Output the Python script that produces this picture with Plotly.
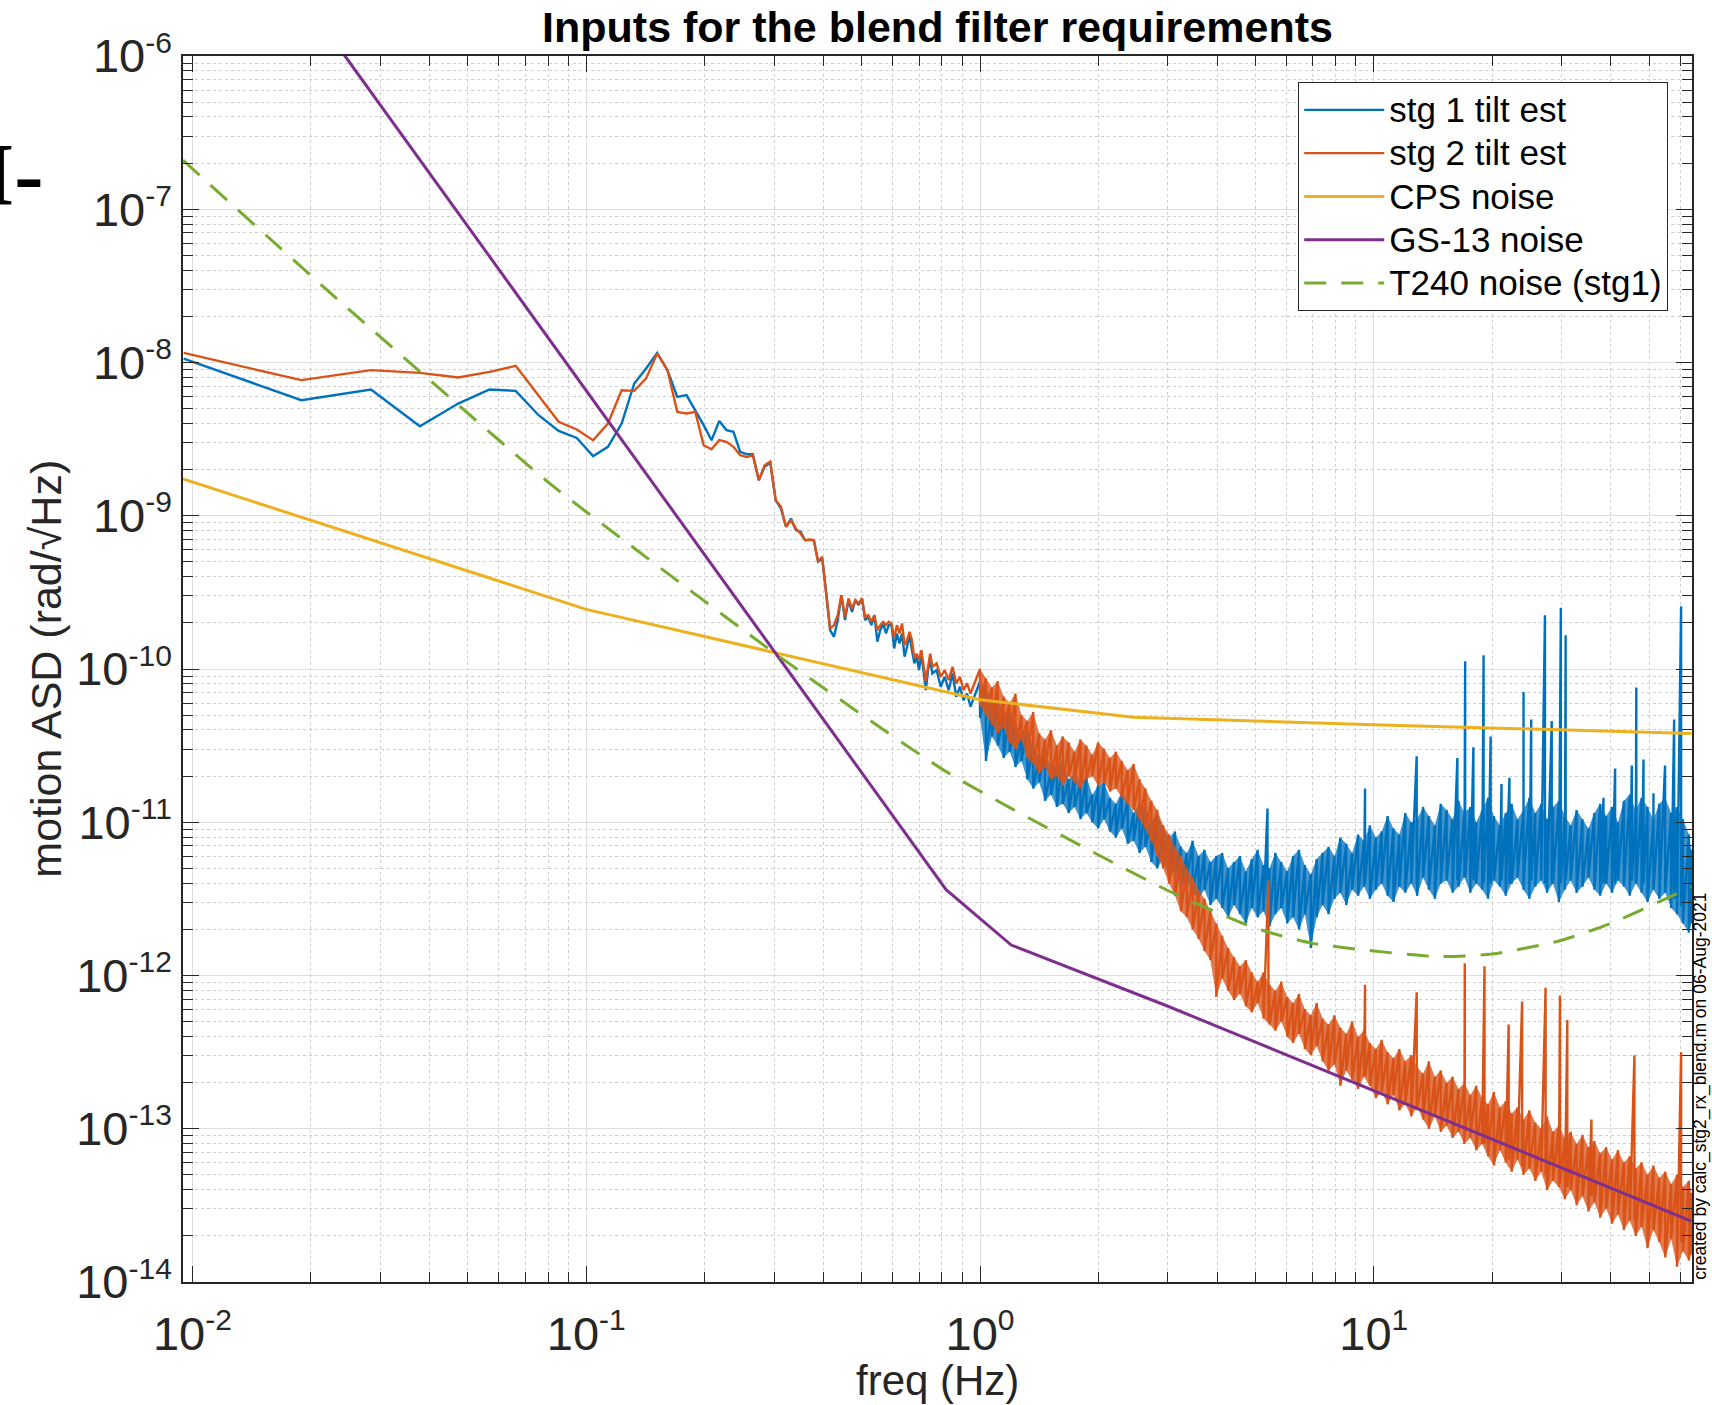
import plotly.graph_objects as go

# ---------------- data ----------------
# low-frequency spectral bins (Hz) shared by both tilt estimates
low_freq = [0.0095, 0.0189, 0.0284, 0.0378, 0.0473, 0.0568, 0.0662, 0.0757, 0.0851, 0.0946,
            0.1041, 0.1135, 0.1230, 0.1324, 0.1419, 0.1514, 0.1608, 0.1703, 0.1797, 0.1892,
            0.1987, 0.2081, 0.2176, 0.2270, 0.2365, 0.2460, 0.2554, 0.2649, 0.2743, 0.2838,
            0.2933, 0.3027, 0.3122, 0.3216, 0.3311, 0.3406, 0.3500, 0.3595, 0.3689, 0.3784,
            0.3879, 0.3973, 0.4068, 0.4162, 0.4257, 0.4352, 0.4446, 0.4541, 0.4635, 0.4730,
            0.4825, 0.4919, 0.5014, 0.5108, 0.5203, 0.5298, 0.5392, 0.5487, 0.5581, 0.5676,
            0.5771, 0.5865, 0.5960, 0.6054, 0.6149, 0.6244, 0.6338, 0.6433, 0.6527, 0.6622,
            0.6717, 0.6811, 0.6906, 0.7000, 0.7095, 0.7190, 0.7284, 0.7379, 0.7473, 0.7568,
            0.7757, 0.7946, 0.8136, 0.8325, 0.8514, 0.8703, 0.8892, 0.9082, 0.9271, 0.9460]

# log10 of ASD (rad/sqrt(Hz))
stg1_low_log10 = [-7.974, -8.246, -8.176, -8.416, -8.268, -8.176, -8.185, -8.344, -8.446, -8.492,
                  -8.611, -8.550, -8.398, -8.137, -8.039, -7.937, -8.050, -8.224, -8.213, -8.311,
                  -8.409, -8.507, -8.381, -8.441, -8.452, -8.583, -8.598, -8.598, -8.768, -8.681,
                  -8.653, -8.898, -8.953, -9.072, -9.018, -9.094, -9.105, -9.159, -9.159, -9.159,
                  -9.300, -9.279, -9.507, -9.746, -9.790, -9.681, -9.518, -9.681, -9.550, -9.627,
                  -9.550, -9.583, -9.540, -9.681, -9.660, -9.714, -9.649, -9.822, -9.746, -9.703,
                  -9.768, -9.714, -9.714, -9.866, -9.768, -9.833, -9.768, -9.920, -9.855, -9.779,
                  -9.877, -9.963, -9.920, -10.007, -9.900, -10.029, -10.138, -10.007, -9.942, -10.029,
                  -10.007, -10.116, -10.051, -10.138, -10.029, -10.181, -10.116, -10.203, -10.160, -10.246]

stg2_low_log10 = [-7.937, -8.115, -8.050, -8.068, -8.098, -8.061, -8.022, -8.214, -8.387, -8.437,
                  -8.507, -8.398, -8.181, -8.185, -8.104, -7.941, -8.050, -8.322, -8.333, -8.322,
                  -8.540, -8.566, -8.507, -8.518, -8.550, -8.605, -8.616, -8.605, -8.768, -8.670,
                  -8.646, -8.898, -8.942, -9.072, -9.029, -9.083, -9.116, -9.159, -9.155, -9.159,
                  -9.300, -9.268, -9.485, -9.735, -9.714, -9.649, -9.518, -9.660, -9.540, -9.605,
                  -9.550, -9.573, -9.540, -9.660, -9.649, -9.692, -9.649, -9.746, -9.714, -9.692,
                  -9.714, -9.692, -9.703, -9.800, -9.714, -9.768, -9.703, -9.844, -9.812, -9.757,
                  -9.812, -9.931, -9.900, -9.942, -9.877, -9.986, -10.080, -9.986, -9.900, -9.986,
                  -9.963, -10.051, -10.007, -10.073, -9.986, -10.094, -10.051, -10.138, -10.094, -10.160]

# dense part of the spectra (1 Hz .. 64 Hz): upper / lower extent of the noise band
band_freq = [1.000, 1.035, 1.072, 1.109, 1.148, 1.189, 1.230, 1.274, 1.318, 1.365,
             1.413, 1.462, 1.514, 1.567, 1.622, 1.679, 1.738, 1.799, 1.862, 1.928,
             1.995, 2.065, 2.138, 2.213, 2.291, 2.371, 2.455, 2.541, 2.630, 2.723,
             2.818, 2.917, 3.020, 3.126, 3.236, 3.350, 3.467, 3.589, 3.715, 3.846,
             3.981, 4.121, 4.266, 4.416, 4.571, 4.732, 4.898, 5.070, 5.248, 5.433,
             5.623, 5.821, 6.026, 6.237, 6.457, 6.683, 6.918, 7.161, 7.413, 7.674,
             7.943, 8.222, 8.511, 8.810, 9.120, 9.441, 9.772, 10.12, 10.47, 10.84,
             11.22, 11.61, 12.02, 12.45, 12.88, 13.34, 13.80, 14.29, 14.79, 15.31,
             15.85, 16.41, 16.98, 17.58, 18.20, 18.84, 19.50, 20.18, 20.89, 21.63,
             22.39, 23.17, 23.99, 24.83, 25.70, 26.61, 27.54, 28.51, 29.51, 30.55,
             31.62, 32.73, 33.88, 35.08, 36.31, 37.58, 38.90, 40.27, 41.69, 43.15,
             44.67, 46.24, 47.86, 49.55, 51.29, 53.09, 54.95, 56.89, 58.88, 60.95,
             63.10, 64.00]

stg1_band_hi_log10 = [-10.08, -10.12, -10.22, -10.18, -10.30, -10.26, -10.36, -10.44, -10.40, -10.50,
                      -10.58, -10.52, -10.66, -10.62, -10.60, -10.72, -10.68, -10.74, -10.70, -10.82,
                      -10.76, -10.74, -10.84, -10.88, -10.80, -10.86, -10.94, -10.88, -10.90, -11.00,
                      -10.94, -11.04, -11.10, -11.06, -11.16, -11.20, -11.12, -11.22, -11.18, -11.26,
                      -11.22, -11.20, -11.30, -11.26, -11.22, -11.32, -11.24, -11.18, -11.28, -11.30,
                      -11.20, -11.26, -11.32, -11.22, -11.18, -11.28, -11.34, -11.24, -11.20, -11.16,
                      -11.22, -11.10, -11.14, -11.20, -11.08, -11.12, -11.02, -11.10, -11.06, -10.96,
                      -11.04, -11.08, -10.94, -11.00, -10.98, -10.90, -10.96, -11.02, -10.88, -10.92,
                      -10.98, -10.86, -10.94, -10.90, -11.00, -10.92, -10.84, -10.96, -11.02, -10.94,
                      -10.88, -10.98, -10.92, -10.84, -10.94, -10.88, -10.98, -10.90, -10.86, -10.96,
                      -11.02, -10.92, -10.98, -11.04, -10.94, -10.88, -10.96, -10.90, -11.00, -10.86,
                      -10.82, -10.92, -10.84, -10.90, -10.98, -10.88, -10.84, -10.94, -10.90, -10.98,
                      -11.08, -11.18]
stg1_band_lo_log10 = [-10.32, -10.60, -10.44, -10.50, -10.58, -10.54, -10.64, -10.60, -10.72, -10.78,
                      -10.74, -10.86, -10.82, -10.90, -10.88, -10.94, -10.90, -10.98, -10.94, -11.00,
                      -11.04, -10.98, -11.06, -11.10, -11.04, -11.14, -11.12, -11.20, -11.16, -11.26,
                      -11.30, -11.24, -11.36, -11.32, -11.42, -11.38, -11.46, -11.50, -11.44, -11.54,
                      -11.50, -11.56, -11.62, -11.54, -11.60, -11.66, -11.56, -11.62, -11.58, -11.68,
                      -11.60, -11.56, -11.66, -11.62, -11.70, -11.60, -11.82, -11.62, -11.54, -11.60,
                      -11.50, -11.46, -11.54, -11.44, -11.48, -11.42, -11.50, -11.44, -11.40, -11.48,
                      -11.52, -11.42, -11.46, -11.40, -11.48, -11.36, -11.44, -11.50, -11.40, -11.38,
                      -11.46, -11.42, -11.36, -11.46, -11.40, -11.44, -11.50, -11.38, -11.42, -11.48,
                      -11.40, -11.36, -11.44, -11.50, -11.42, -11.38, -11.46, -11.40, -11.52, -11.44,
                      -11.38, -11.46, -11.42, -11.36, -11.44, -11.48, -11.40, -11.46, -11.38, -11.42,
                      -11.48, -11.40, -11.46, -11.52, -11.44, -11.50, -11.46, -11.56, -11.60, -11.66,
                      -11.72, -11.66]

stg2_band_hi_log10 = [-10.00, -10.06, -10.12, -10.08, -10.18, -10.22, -10.16, -10.30, -10.34, -10.28,
                      -10.42, -10.46, -10.40, -10.50, -10.44, -10.48, -10.54, -10.46, -10.50, -10.56,
                      -10.48, -10.52, -10.58, -10.54, -10.60, -10.66, -10.62, -10.72, -10.78, -10.86,
                      -10.92, -11.02, -11.08, -11.16, -11.22, -11.30, -11.36, -11.44, -11.50, -11.58,
                      -11.66, -11.74, -11.82, -11.88, -11.94, -11.90, -11.98, -12.04, -11.98, -12.06,
                      -12.10, -12.04, -12.14, -12.18, -12.12, -12.22, -12.26, -12.18, -12.28, -12.32,
                      -12.26, -12.34, -12.38, -12.30, -12.40, -12.36, -12.44, -12.48, -12.42, -12.50,
                      -12.54, -12.48, -12.56, -12.52, -12.60, -12.64, -12.56, -12.66, -12.62, -12.70,
                      -12.66, -12.74, -12.70, -12.78, -12.72, -12.80, -12.84, -12.76, -12.86, -12.82,
                      -12.90, -12.86, -12.94, -12.88, -12.96, -13.00, -12.92, -13.02, -12.98, -13.06,
                      -13.02, -13.10, -13.04, -13.12, -13.08, -13.16, -13.12, -13.20, -13.14, -13.22,
                      -13.18, -13.26, -13.22, -13.30, -13.24, -13.32, -13.28, -13.36, -13.30, -13.38,
                      -13.34, -13.42]
stg2_band_lo_log10 = [-10.24, -10.30, -10.36, -10.42, -10.38, -10.48, -10.52, -10.46, -10.58, -10.62,
                      -10.68, -10.64, -10.72, -10.70, -10.76, -10.70, -10.74, -10.78, -10.72, -10.70,
                      -10.76, -10.74, -10.80, -10.78, -10.84, -10.88, -10.92, -10.98, -11.04, -11.12,
                      -11.22, -11.30, -11.40, -11.48, -11.58, -11.62, -11.70, -11.76, -11.84, -11.90,
                      -12.14, -12.02, -12.10, -12.16, -12.12, -12.20, -12.24, -12.18, -12.28, -12.32,
                      -12.36, -12.30, -12.40, -12.44, -12.38, -12.48, -12.52, -12.46, -12.56, -12.62,
                      -12.58, -12.72, -12.62, -12.68, -12.74, -12.66, -12.72, -12.80, -12.76, -12.84,
                      -12.78, -12.88, -12.84, -12.92, -12.86, -12.94, -13.00, -12.92, -13.02, -12.98,
                      -13.06, -13.02, -13.10, -13.06, -13.14, -13.10, -13.18, -13.24, -13.14, -13.22,
                      -13.28, -13.20, -13.30, -13.26, -13.34, -13.28, -13.40, -13.34, -13.38, -13.46,
                      -13.40, -13.50, -13.44, -13.54, -13.48, -13.58, -13.52, -13.62, -13.56, -13.66,
                      -13.60, -13.70, -13.64, -13.78, -13.66, -13.74, -13.84, -13.72, -13.90, -13.80,
                      -13.86, -13.82]

# narrow lines (peaks) in the spectra: frequency, peak top, band level at the peak
stg1_peak_freq = [5.37, 9.50, 12.85, 16.30, 17.06, 17.90, 19.00, 19.80, 21.10, 22.10,
                  24.00, 25.10, 27.20, 28.30, 29.85, 30.70, 38.30, 41.00, 45.20, 46.40,
                  48.40, 51.30, 54.90, 57.90, 60.30]
stg1_peak_top_log10 = [-10.91, -10.78, -10.57, -10.58, -9.95, -10.51, -9.91, -10.44, -10.75, -10.71,
                       -10.15, -10.33, -9.65, -10.34, -9.60, -9.78, -10.84, -10.65, -10.63, -10.12,
                       -10.59, -10.81, -10.63, -10.33, -9.59]
stg1_peak_base_log10 = [-11.50, -11.40, -11.40, -11.38, -11.36, -11.38, -11.40, -11.40, -11.38, -11.40,
                        -11.40, -11.38, -11.40, -11.40, -11.40, -11.38, -11.40, -11.40, -11.38, -11.40,
                        -11.40, -11.44, -11.42, -11.50, -11.55]

stg2_peak_freq = [5.40, 9.50, 12.85, 17.02, 19.10, 22.00, 23.80, 27.30, 29.70, 31.00,
                  35.70, 45.90, 60.30]
stg2_peak_top_log10 = [-11.38, -12.06, -12.11, -11.92, -11.94, -12.32, -12.17, -12.08, -12.13, -12.29,
                       -12.94, -12.52, -12.50]
stg2_peak_base_log10 = [-12.30, -12.66, -12.88, -13.04, -13.10, -13.20, -13.24, -13.30, -13.36, -13.38,
                        -13.44, -13.60, -13.74]

# noise models
cps_freq = [0.00946, 0.1, 1.0, 2.45, 10.0, 64.0]
cps_asd = [1.74e-9, 2.45e-10, 6.3e-11, 4.84e-11, 4.33e-11, 3.8e-11]

gs13_freq = [0.00946, 0.0244, 0.82, 1.2, 3.0, 64.0]
gs13_asd = [2.88e-5, 1.0e-6, 3.63e-12, 1.58e-12, 6.3e-13, 2.5e-14]

t240_freq = [0.00946, 0.0235, 0.0809, 0.129, 0.310, 0.838, 2.99, 5.0, 7.0, 14.4, 20.0, 30.0, 40.0, 55.0, 64.0]
t240_asd = [2.09e-7, 2.55e-8, 1.62e-9, 6.46e-10, 1.2e-10, 2.07e-11, 3.6e-12, 2.04e-12, 1.62e-12,
            1.33e-12, 1.38e-12, 1.7e-12, 2.19e-12, 3.16e-12, 3.8e-12]

legend_names = ["stg 1 tilt est", "stg 2 tilt est", "CPS noise", "GS-13 noise", "T240 noise (stg1)"]

SUP = "<sup><span style='font-size:30px'>{}</span></sup>"
x_tick_vals = [0.01, 0.1, 1, 10]
x_tick_text = ["10" + SUP.format(e) for e in ["-2", "-1", "0", "1"]]
y_tick_vals = [1e-14, 1e-13, 1e-12, 1e-11, 1e-10, 1e-9, 1e-8, 1e-7, 1e-6]
y_tick_text = ["10" + SUP.format(e) for e in ["-14", "-13", "-12", "-11", "-10", "-9", "-8", "-7", "-6"]]


# ---------------- build traces ----------------
def spectrum(low_log, hi_log, lo_log, pk_f, pk_top, pk_base):
    xs = list(low_freq)
    ys = [10 ** v for v in low_log]
    rows = list(zip(band_freq, hi_log, lo_log)) + list(zip(pk_f, pk_top, pk_base))
    rows.sort(key=lambda r: r[0])
    for f, h, l in rows:
        xs += [f, f]
        ys += [10 ** h, 10 ** l]
    return xs, ys


def band(hi_log, lo_log):
    xs = list(band_freq) + list(band_freq[::-1])
    ys = [10 ** v for v in hi_log] + [10 ** v for v in lo_log[::-1]]
    return xs, ys


def lname(s):
    return "<span style='font-size:35px'>" + s + "</span>"


s1x, s1y = spectrum(stg1_low_log10, stg1_band_hi_log10, stg1_band_lo_log10,
                    stg1_peak_freq, stg1_peak_top_log10, stg1_peak_base_log10)
s2x, s2y = spectrum(stg2_low_log10, stg2_band_hi_log10, stg2_band_lo_log10,
                    stg2_peak_freq, stg2_peak_top_log10, stg2_peak_base_log10)
b1x, b1y = band(stg1_band_hi_log10, stg1_band_lo_log10)
b2x, b2y = band(stg2_band_hi_log10, stg2_band_lo_log10)

C_BLUE, C_ORANGE, C_YELLOW, C_PURPLE, C_GREEN = "#0072BD", "#D95319", "#EDB120", "#7E2F8E", "#77AC30"

fig = go.Figure()
fig.add_trace(go.Scatter(x=b1x, y=b1y, mode="lines", fill="toself", fillcolor="rgba(0,114,189,0.75)",
                         line=dict(width=0, color=C_BLUE), showlegend=False, hoverinfo="skip"))
fig.add_trace(go.Scatter(x=s1x, y=s1y, mode="lines", name=lname(legend_names[0]),
                         line=dict(color=C_BLUE, width=2.4)))
fig.add_trace(go.Scatter(x=b2x, y=b2y, mode="lines", fill="toself", fillcolor="rgba(217,83,25,0.78)",
                         line=dict(width=0, color=C_ORANGE), showlegend=False, hoverinfo="skip"))
fig.add_trace(go.Scatter(x=s2x, y=s2y, mode="lines", name=lname(legend_names[1]),
                         line=dict(color=C_ORANGE, width=2.4)))
fig.add_trace(go.Scatter(x=cps_freq, y=cps_asd, mode="lines", name=lname(legend_names[2]),
                         line=dict(color=C_YELLOW, width=3)))
fig.add_trace(go.Scatter(x=gs13_freq, y=gs13_asd, mode="lines", name=lname(legend_names[3]),
                         line=dict(color=C_PURPLE, width=3)))
fig.add_trace(go.Scatter(x=t240_freq, y=t240_asd, mode="lines", name=lname(legend_names[4]),
                         line=dict(color=C_GREEN, width=3, dash="22px,15px", shape="spline", smoothing=0.6)))

x_minor = [k * 10.0 ** n for n in range(-3, 2) for k in range(2, 10)]
y_minor = [k * 10.0 ** n for n in range(-15, -5) for k in range(2, 10)]

AX = "#262626"
axis_common = dict(
    type="log", showline=True, linecolor=AX, linewidth=1.5, mirror="ticks",
    ticks="inside", ticklen=16, tickwidth=1.3, tickcolor=AX,
    showgrid=True, gridcolor="#dedede", gridwidth=1.3, zeroline=False,
    tickfont=dict(size=47, color="#262626"),
)

fig.update_xaxes(
    **axis_common,
    range=[-2.024, 1.808],
    tickmode="array", tickvals=x_tick_vals, ticktext=x_tick_text,
    ticklabelstandoff=10,
    minor=dict(tickmode="array", tickvals=x_minor, ticks="inside", ticklen=10, tickwidth=1.1,
               tickcolor=AX, showgrid=True, gridcolor="#cfcfcf", griddash="dot", gridwidth=1),
)
fig.update_yaxes(
    **axis_common,
    range=[-14, -6],
    tickmode="array", tickvals=y_tick_vals, ticktext=y_tick_text,
    minor=dict(tickmode="array", tickvals=y_minor, ticks="inside", ticklen=10, tickwidth=1.1,
               tickcolor=AX, showgrid=True, gridcolor="#cfcfcf", griddash="dot", gridwidth=1),
)

fig.update_layout(
    width=1712, height=1405,
    margin=dict(l=183, r=20, t=56, b=123, autoexpand=False),
    plot_bgcolor="white", paper_bgcolor="white",
    font=dict(family="Liberation Sans, Arial, Helvetica, sans-serif", color="#262626"),
    title=dict(text="<b>Inputs for the blend filter requirements</b>", font=dict(size=43, color="#000000"),
               x=0.5, xref="paper", xanchor="center", y=1 - 27 / 1405, yref="container", yanchor="middle"),
    showlegend=True,
    legend=dict(x=0.9841, xanchor="right", y=0.9788, yanchor="top",
                bgcolor="white", bordercolor="#262626", borderwidth=1.2,
                font=dict(size=31, color="#000000"), itemwidth=80, tracegroupgap=0),
    annotations=[
        dict(text="freq (Hz)", xref="paper", yref="paper", x=0.5, y=-0.0800,
             xanchor="center", yanchor="middle", showarrow=False,
             font=dict(size=42, color="#262626")),
        dict(text="motion ASD (rad/\u221aHz)", xref="paper", yref="paper", x=-0.0910, y=0.5,
             xanchor="center", yanchor="middle", textangle=-90, showarrow=False,
             font=dict(size=43, color="#262626")),
        dict(text="created by calc_stg2_rx_blend.m on 06-Aug-2021", xref="paper", yref="paper",
             x=1.0055, y=0.0, xanchor="center", yanchor="bottom", textangle=-90, showarrow=False,
             font=dict(size=17.5, color="#000000")),
        dict(text="<b>I-</b>", xref="paper", yref="paper", x=-0.1359, y=0.903, xanchor="left", yanchor="middle",
             showarrow=False, font=dict(size=88, color="#000000", family="Liberation Serif")),
    ],
)

fig.write_html("out.html")
